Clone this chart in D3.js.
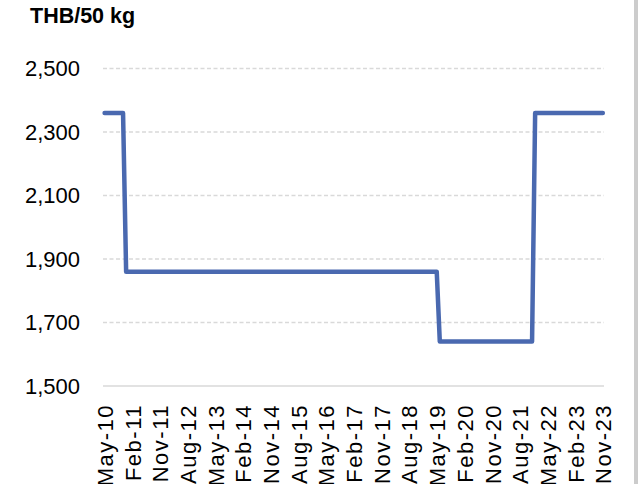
<!DOCTYPE html>
<html>
<head>
<meta charset="utf-8">
<script src="https://cdn.jsdelivr.net/npm/d3@7/dist/d3.min.js"></script>
<style>
  html, body { margin: 0; padding: 0; background: #fff; }
  svg { display: block; }
  text { font-family: "Liberation Sans", Arial, sans-serif; fill: #000; }
</style>
</head>
<body>
<svg id="chart" width="638" height="484"></svg>
<script>
// ---- data ----
const title = "THB/50 kg";
const tickLabels = ["May-10","Feb-11","Nov-11","Aug-12","May-13","Feb-14","Nov-14","Aug-15",
  "May-16","Feb-17","Nov-17","Aug-18","May-19","Feb-20","Nov-20","Aug-21","May-22","Feb-23","Nov-23"];
// months where the price line has a vertex (monthly series, straight segments in between)
const pointMonths = ["May-10","Nov-10","Dec-10","May-19","Jun-19","Dec-21","Jan-22","Nov-23"];
const pointValues = [2360, 2360, 1860, 1860, 1640, 1640, 2360, 2360];
const yTicks = [1500, 1700, 1900, 2100, 2300, 2500];

// ---- layout ----
const svg = d3.select("#chart");
const W = 638, H = 484;
const parse = d3.timeParse("%b-%y");
const start = parse("May-10"), end = parse("Nov-23");
const monthIndex = s => d3.timeMonth.count(start, parse(s));

const x = d3.scaleLinear().domain([0, d3.timeMonth.count(start, end)]).range([104.6, 602.8]);
const y = d3.scaleLinear().domain([1500, 2500]).range([386, 68.5]);
const gridX0 = 103, gridX1 = 604;

// right border
svg.append("rect").attr("x", 634).attr("y", 0).attr("width", 4).attr("height", H).attr("fill", "#cccccc");

// title
svg.append("text").attr("x", 30).attr("y", 22.5)
  .attr("font-size", 21.5).attr("font-weight", "bold").text(title);

// gridlines
svg.append("g").selectAll("line").data(yTicks.filter(v => v !== 1500)).join("line")
  .attr("x1", gridX0).attr("x2", gridX1)
  .attr("y1", d => y(d)).attr("y2", d => y(d))
  .attr("stroke", "#d9d9d9").attr("stroke-width", 1.4).attr("stroke-dasharray", "4,2.5");

// x axis line
svg.append("line").attr("x1", gridX0).attr("x2", gridX1).attr("y1", y(1500)).attr("y2", y(1500))
  .attr("stroke", "#d9d9d9").attr("stroke-width", 1.5);

// y axis labels
const yAxis = d3.axisLeft(y).tickValues(yTicks).tickFormat(d3.format(",")).tickSize(0).tickPadding(0);
const gy = svg.append("g").attr("transform", "translate(80,0)").call(yAxis);
gy.select(".domain").remove();
gy.selectAll("text").attr("font-size", 22).attr("font-family", "Liberation Sans, Arial, sans-serif").attr("fill", "#000");

// x axis labels
const xAxis = d3.axisBottom(x).tickValues(tickLabels.map(monthIndex))
  .tickFormat((d, i) => tickLabels[i]).tickSize(0).tickPadding(0);
const gx = svg.append("g").attr("transform", `translate(0,${y(1500)})`).call(xAxis);
gx.select(".domain").remove();
gx.selectAll("text")
  .attr("font-size", 22).attr("font-family", "Liberation Sans, Arial, sans-serif").attr("fill", "#000")
  .attr("text-anchor", "end")
  .attr("transform", "rotate(-90)")
  .attr("x", -18).attr("y", 0).attr("dy", "0.36em")
  .attr("letter-spacing", 1.5);

// line
const pts = pointMonths.map((m, i) => ({ i: monthIndex(m), v: pointValues[i] }));
const line = d3.line().x(d => x(d.i)).y(d => y(d.v));
svg.append("path").datum(pts).attr("d", line)
  .attr("fill", "none").attr("stroke", "#4a69b0").attr("stroke-width", 4.5)
  .attr("stroke-linejoin", "round").attr("stroke-linecap", "round");
</script>
</body>
</html>
